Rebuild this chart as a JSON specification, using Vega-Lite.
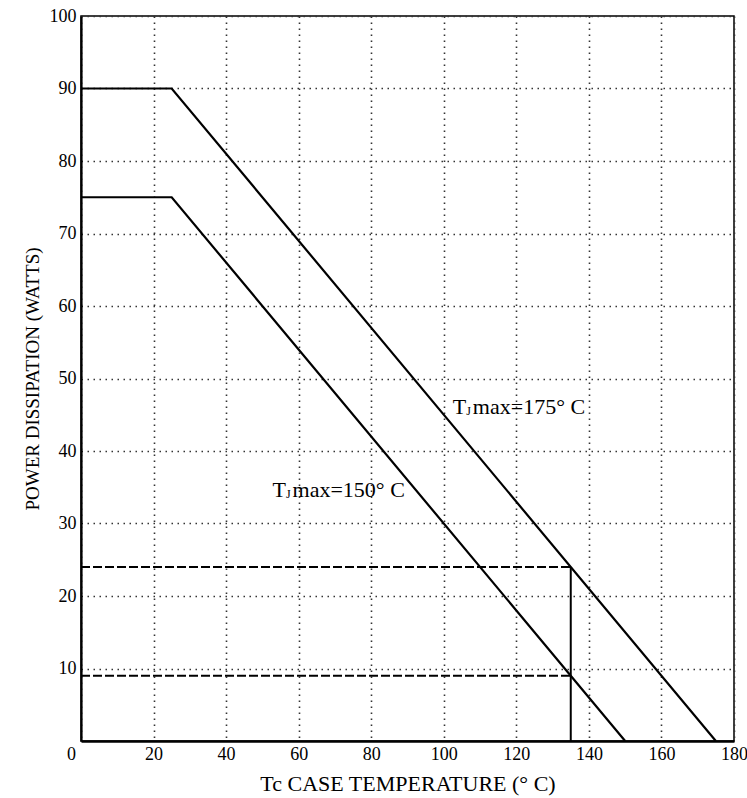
{
  "$schema": "https://vega.github.io/schema/vega-lite/v6.json",
  "width": 653,
  "height": 725,
  "autosize": "none",
  "padding": {"left": 81, "top": 16, "right": 13, "bottom": 57},
  "background": "white",
  "config": {
    "view": {"stroke": "black", "strokeWidth": 1.5},
    "font": "Liberation Serif",
    "axis": {
      "labelFont": "Liberation Serif",
      "titleFont": "Liberation Serif",
      "labelColor": "black",
      "titleColor": "black",
      "titleFontWeight": "normal",
      "labelFontSize": 18,
      "tickSize": 0,
      "domainColor": "black",
      "domainWidth": 2.2,
      "grid": true,
      "gridColor": "#333333",
      "gridDash": [1.5, 4.5],
      "gridWidth": 1.6,
      "gridOpacity": 1
    }
  },
  "datasets": {
    "curves": [
      {"series": "175", "x": 0, "y": 90},
      {"series": "175", "x": 25, "y": 90},
      {"series": "175", "x": 175, "y": 0},
      {"series": "150", "x": 0, "y": 75},
      {"series": "150", "x": 25, "y": 75},
      {"series": "150", "x": 150, "y": 0}
    ],
    "guides": [
      {"series": "d24", "x": 0, "y": 24},
      {"series": "d24", "x": 135, "y": 24},
      {"series": "d9", "x": 0, "y": 9},
      {"series": "d9", "x": 135, "y": 9}
    ],
    "vertical": [
      {"x": 135, "y": 0},
      {"x": 135, "y": 24}
    ],
    "labels": [
      {"x": 102.5, "y": 45.1, "rest": "max=175° C"},
      {"x": 52.8, "y": 33.7, "rest": "max=150° C"}
    ]
  },
  "layer": [
    {
      "data": {"name": "curves"},
      "mark": {"type": "line", "color": "black", "strokeWidth": 2.2},
      "encoding": {
        "x": {
          "field": "x",
          "type": "quantitative",
          "scale": {"domain": [0, 180], "nice": false},
          "axis": {
            "values": [0, 20, 40, 60, 80, 100, 120, 140, 160, 180],
            "labelPadding": 4,
            "labelFlush": false,
            "labelOffset": {"condition": {"test": "datum.value == 0", "value": -10}, "value": 0},
            "title": "Tc CASE TEMPERATURE (° C)",
            "titleFontSize": 22,
            "titlePadding": 10,
            "domainWidth": 2.6
          }
        },
        "y": {
          "field": "y",
          "type": "quantitative",
          "scale": {"domain": [0, 100], "nice": false},
          "axis": {
            "values": [10, 20, 30, 40, 50, 60, 70, 80, 90, 100],
            "labelPadding": 5,
            "title": "POWER DISSIPATION (WATTS)",
            "titleFontSize": 19,
            "titlePadding": 7
          }
        },
        "detail": {"field": "series"}
      }
    },
    {
      "data": {"name": "guides"},
      "mark": {"type": "line", "color": "black", "strokeWidth": 2, "strokeDash": [9, 3]},
      "encoding": {
        "x": {"field": "x", "type": "quantitative"},
        "y": {"field": "y", "type": "quantitative"},
        "detail": {"field": "series"}
      }
    },
    {
      "data": {"name": "vertical"},
      "mark": {"type": "line", "color": "black", "strokeWidth": 2},
      "encoding": {
        "x": {"field": "x", "type": "quantitative"},
        "y": {"field": "y", "type": "quantitative"}
      }
    },
    {
      "data": {"name": "labels"},
      "mark": {"type": "text", "align": "left", "baseline": "alphabetic", "fontSize": 22, "font": "Liberation Serif", "color": "black"},
      "encoding": {
        "x": {"field": "x", "type": "quantitative"},
        "y": {"field": "y", "type": "quantitative"},
        "text": {"value": "T"}
      }
    },
    {
      "data": {"name": "labels"},
      "mark": {"type": "text", "align": "left", "baseline": "alphabetic", "fontSize": 12, "dx": 13.5, "dy": 1, "font": "Liberation Serif", "color": "black"},
      "encoding": {
        "x": {"field": "x", "type": "quantitative"},
        "y": {"field": "y", "type": "quantitative"},
        "text": {"value": "J"}
      }
    },
    {
      "data": {"name": "labels"},
      "mark": {"type": "text", "align": "left", "baseline": "alphabetic", "fontSize": 22, "dx": 20, "font": "Liberation Serif", "color": "black"},
      "encoding": {
        "x": {"field": "x", "type": "quantitative"},
        "y": {"field": "y", "type": "quantitative"},
        "text": {"field": "rest"}
      }
    }
  ]
}
